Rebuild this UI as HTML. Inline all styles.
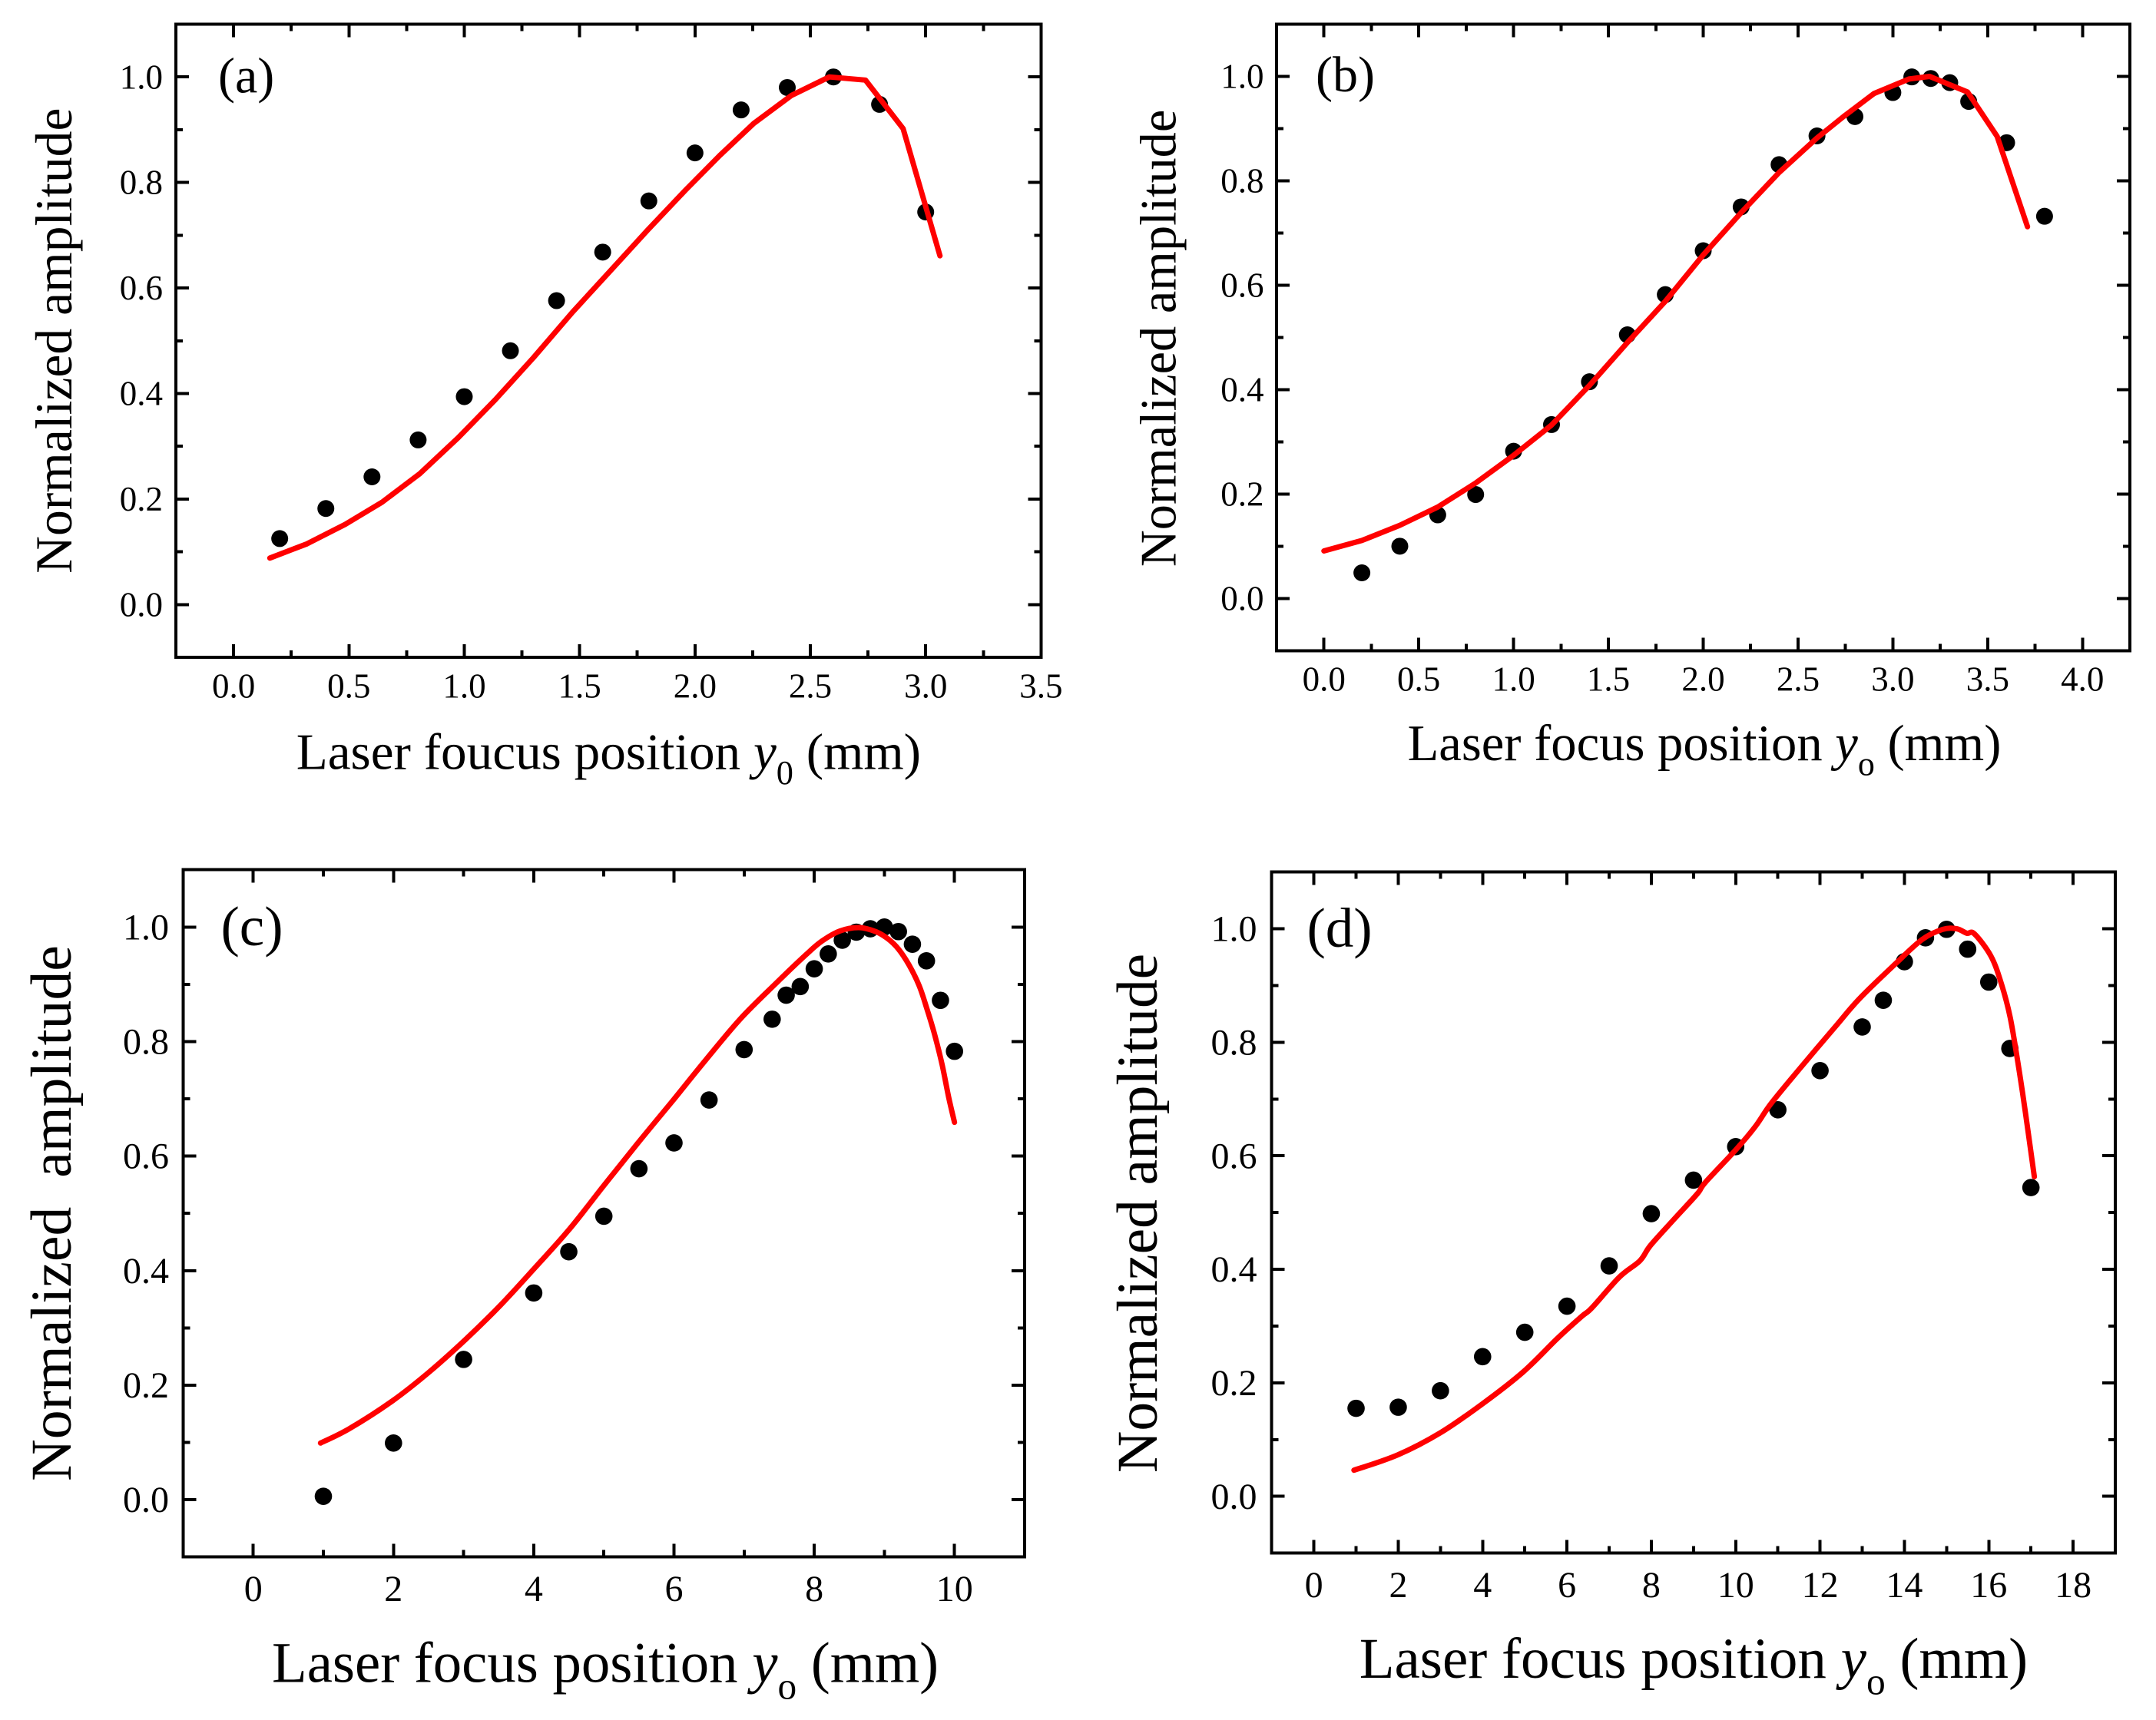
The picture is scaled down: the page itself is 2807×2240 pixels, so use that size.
<!DOCTYPE html>
<html lang="en">
<head>
<meta charset="utf-8">
<title>Normalized amplitude vs laser focus position</title>
<style>
html,body{margin:0;padding:0;background:#fff;}
svg{display:block;}
text{font-family:"Liberation Serif","Times New Roman",serif;fill:#000;white-space:pre;}
</style>
</head>
<body>
<svg id="chart" xmlns="http://www.w3.org/2000/svg" width="2807" height="2240" viewBox="0 0 2807 2240"></svg>
<script>
// Shared y axis
const yMajorTicks = [0, 0.2, 0.4, 0.6, 0.8, 1.0];
const yMinorTicks = [0.1, 0.3, 0.5, 0.7, 0.9];
const yTickLabels = ['0.0', '0.2', '0.4', '0.6', '0.8', '1.0'];

// Panel (a)
const aXMajorTicks = [0, 0.5, 1, 1.5, 2, 2.5, 3, 3.5];
const aXMinorTicks = [0.25, 0.75, 1.25, 1.75, 2.25, 2.75, 3.25];
const aXTickLabels = ['0.0', '0.5', '1.0', '1.5', '2.0', '2.5', '3.0', '3.5'];
const aDotX = [0.2, 0.4, 0.6, 0.8, 1.0, 1.2, 1.4, 1.6, 1.8, 2.0, 2.2, 2.4, 2.6, 2.8, 3.0];
const aDotY = [0.125, 0.182, 0.242, 0.312, 0.394, 0.481, 0.576, 0.668, 0.765, 0.856, 0.9375, 0.98, 1.0, 0.948, 0.744];
const aCurveX = [0.157, 0.318, 0.484, 0.644, 0.807, 0.973, 1.134, 1.30, 1.469, 1.632, 1.795, 1.958, 2.107, 2.255, 2.418, 2.582, 2.739, 2.902, 3.062];
const aCurveY = [0.088, 0.115, 0.152, 0.194, 0.248, 0.316, 0.388, 0.468, 0.554, 0.632, 0.71, 0.785, 0.851, 0.912, 0.965, 1.0, 0.994, 0.902, 0.661];

// Panel (b)
const bXMajorTicks = [0, 0.5, 1, 1.5, 2, 2.5, 3, 3.5, 4];
const bXMinorTicks = [0.25, 0.75, 1.25, 1.75, 2.25, 2.75, 3.25, 3.75];
const bXTickLabels = ['0.0', '0.5', '1.0', '1.5', '2.0', '2.5', '3.0', '3.5', '4.0'];
const bDotX = [0.2, 0.4, 0.6, 0.8, 1.0, 1.2, 1.4, 1.6, 1.8, 2.0, 2.2, 2.4, 2.6, 2.8, 3.0, 3.1, 3.2, 3.3, 3.4, 3.6, 3.8];
const bDotY = [0.049, 0.10, 0.16, 0.199, 0.282, 0.333, 0.415, 0.505, 0.582, 0.666, 0.75, 0.831, 0.886, 0.923, 0.969, 0.999, 0.996, 0.988, 0.952, 0.873, 0.732];
const bCurveX = [0, 0.2, 0.4, 0.6, 0.8, 1.0, 1.2, 1.4, 1.6, 1.8, 2.0, 2.2, 2.4, 2.6, 2.74, 2.9, 3.085, 3.194, 3.394, 3.55, 3.71];
const bCurveY = [0.091, 0.111, 0.14, 0.175, 0.221, 0.274, 0.332, 0.408, 0.49, 0.569, 0.658, 0.739, 0.816, 0.882, 0.923, 0.967, 0.995, 1.0, 0.97, 0.885, 0.712];

// Panel (c)
const cXMajorTicks = [0, 2, 4, 6, 8, 10];
const cXMinorTicks = [1, 3, 5, 7, 9];
const cXTickLabels = ['0', '2', '4', '6', '8', '10'];
const cDotX = [1, 2, 3, 4, 4.5, 5, 5.5, 6, 6.5, 7, 7.4, 7.6, 7.8, 8, 8.2, 8.4, 8.6, 8.8, 9, 9.2, 9.4, 9.6, 9.8, 10];
const cDotY = [0.006, 0.099, 0.245, 0.361, 0.433, 0.495, 0.578, 0.623, 0.698, 0.786, 0.839, 0.881, 0.896, 0.927, 0.953, 0.977, 0.991, 0.997, 1.0, 0.992, 0.97, 0.941, 0.872, 0.783];
const cCurveX = [0.96, 1.37, 1.99, 2.5, 3.03, 3.52, 4.01, 4.5, 4.99, 5.48, 5.97, 6.46, 6.95, 7.44, 7.885, 8.105, 8.365, 8.639, 8.877, 9.055, 9.205, 9.35, 9.495, 9.605, 9.715, 9.825, 9.92, 10.0];
const cCurveY = [0.099, 0.124, 0.173, 0.222, 0.28, 0.339, 0.404, 0.471, 0.547, 0.622, 0.695, 0.769, 0.84, 0.90, 0.952, 0.975, 0.993, 0.999, 0.992, 0.979, 0.961, 0.934, 0.898, 0.858, 0.813, 0.759, 0.701, 0.659];

// Panel (d)
const dXMajorTicks = [0, 2, 4, 6, 8, 10, 12, 14, 16, 18];
const dXMinorTicks = [1, 3, 5, 7, 9, 11, 13, 15, 17];
const dXTickLabels = ['0', '2', '4', '6', '8', '10', '12', '14', '16', '18'];
const dDotX = [1, 2, 3, 4, 5, 6, 7, 8, 9, 10, 11, 12, 13, 13.5, 14, 14.5, 15, 15.5, 16, 16.5, 17];
const dDotY = [0.155, 0.157, 0.186, 0.246, 0.289, 0.335, 0.406, 0.498, 0.557, 0.616, 0.681, 0.75, 0.827, 0.874, 0.942, 0.984, 0.999, 0.964, 0.906, 0.789, 0.544];
const dCurveX = [0.95, 1.99, 3, 3.98, 4.96, 5.77, 6.35, 6.59, 7.24, 7.73, 7.98, 8.55, 9.09, 9.28, 10.02, 10.47, 10.83, 11.48, 12.38, 12.95, 13.77, 14.42, 14.91, 15.24, 15.48, 15.66, 16.05, 16.3, 16.51, 16.7, 16.87, 17.08];
const dCurveY = [0.046, 0.073, 0.112, 0.162, 0.219, 0.278, 0.317, 0.332, 0.386, 0.415, 0.442, 0.489, 0.533, 0.553, 0.612, 0.652, 0.691, 0.75, 0.829, 0.878, 0.937, 0.981, 0.999, 1.0, 0.992, 0.991, 0.952, 0.903, 0.843, 0.76, 0.676, 0.563];

const SVG_NS = 'http://www.w3.org/2000/svg';
const root = document.getElementById('chart');

function make(parent, tag, attrs) {
  const el = document.createElementNS(SVG_NS, tag);
  for (const k in attrs) el.setAttribute(k, attrs[k]);
  parent.appendChild(el);
  return el;
}

function polyPath(pts) {
  return pts.map((q, i) => (i ? 'L' : 'M') + q[0].toFixed(1) + ' ' + q[1].toFixed(1)).join(' ');
}

function splinePath(pts) {
  let d = 'M' + pts[0][0].toFixed(1) + ' ' + pts[0][1].toFixed(1);
  for (let i = 0; i < pts.length - 1; i++) {
    const a = pts[Math.max(i - 1, 0)], b = pts[i], c = pts[i + 1], e = pts[Math.min(i + 2, pts.length - 1)];
    const c1x = b[0] + (c[0] - a[0]) / 6, c1y = b[1] + (c[1] - a[1]) / 6;
    const c2x = c[0] - (e[0] - b[0]) / 6, c2y = c[1] - (e[1] - b[1]) / 6;
    d += ' C' + c1x.toFixed(1) + ' ' + c1y.toFixed(1) + ' ' + c2x.toFixed(1) + ' ' + c2y.toFixed(1) + ' ' + c[0].toFixed(1) + ' ' + c[1].toFixed(1);
  }
  return d;
}

function drawPanel(p) {
  const g = make(root, 'g', {});
  
  

  const xScale = v => p.left + (v - p.xMin) / (p.xMax - p.xMin) * (p.right - p.left);
  const yScale = v => p.bottom - (v - (-0.1)) / 1.2 * (p.bottom - p.top);

  const MAJOR = 17, MINOR = 9;

  function tick(x1, y1, x2, y2, name) {
    const t = make(g, 'line', {x1: x1, y1: y1, x2: x2, y2: y2, stroke: '#000', 'stroke-width': 4, 'shape-rendering': 'crispEdges'});
    
    
  }

  function xTicks(values, len, kind) {
    values.forEach(v => {
      const x = xScale(v);
      if (x >= p.right - 1) return;
      tick(x, p.bottom, x, p.bottom - len, 'x-' + kind + '-tick-bottom');
      tick(x, p.top, x, p.top + len, 'x-' + kind + '-tick-top');
    });
  }

  function yTicks(values, len, kind) {
    values.forEach(v => {
      const y = yScale(v);
      tick(p.left, y, p.left + len, y, 'y-' + kind + '-tick-left');
      tick(p.right, y, p.right - len, y, 'y-' + kind + '-tick-right');
    });
  }

  xTicks(p.xMajor, MAJOR, 'major');
  xTicks(p.xMinor, MINOR, 'minor');
  yTicks(yMajorTicks, MAJOR, 'major');
  yTicks(yMinorTicks, MINOR, 'minor');

  const frame = make(g, 'rect', {x: p.left, y: p.top, width: p.right - p.left, height: p.bottom - p.top, fill: 'none', stroke: '#000', 'stroke-width': 4, 'shape-rendering': 'crispEdges'});
  
  

  p.xLabels.forEach((label, i) => {
    const t = make(g, 'text', {x: xScale(p.xMajor[i]), y: p.xTickBase, 'text-anchor': 'middle', 'font-size': p.tickFont});
    
    
    t.textContent = label;
  });

  yTickLabels.forEach((label, i) => {
    const t = make(g, 'text', {x: p.yTickRight, y: yScale(yMajorTicks[i]) + p.tickFont * 0.335, 'text-anchor': 'end', 'font-size': p.tickFont});
    
    
    t.textContent = label;
  });

  p.dotX.forEach((v, i) => {
    const c = make(g, 'circle', {cx: xScale(v), cy: yScale(p.dotY[i]), r: p.dotR, fill: '#000'});
    
    
  });

  const pts = p.curveX.map((v, i) => [xScale(v), yScale(p.curveY[i])]);
  const d = p.smooth ? splinePath(pts) : polyPath(pts);
  const curve = make(g, 'path', {d: d, fill: 'none', stroke: '#ff0000', 'stroke-width': 7, 'stroke-linejoin': 'round', 'stroke-linecap': 'round'});
  
  

  const panelLabel = make(g, 'text', {x: p.tagX, y: p.tagY, 'font-size': p.tagFont});
  
  
  panelLabel.textContent = '(' + p.id + ')';

  const yTitle = make(g, 'text', {transform: 'translate(' + p.yTitleX + ' ' + p.yTitleY + ') rotate(-90)', 'text-anchor': 'middle', 'font-size': p.yTitleFont});
  
  
  yTitle.textContent = p.yTitle;

  const xTitle = make(g, 'text', {x: p.xTitleX, y: p.xTitleY, 'font-size': p.xTitleFont});
  
  
  const t1 = make(xTitle, 'tspan', {});
  t1.textContent = p.xTitle + ' ';
  const t2 = make(xTitle, 'tspan', {'font-style': 'italic'});
  t2.textContent = 'y';
  const t3 = make(xTitle, 'tspan', {dy: p.xTitleFont * 0.29, 'font-size': p.xTitleFont * 0.66});
  t3.textContent = p.sub;
  const t4 = make(xTitle, 'tspan', {dy: -p.xTitleFont * 0.29});
  t4.textContent = ' (mm)';
}

drawPanel({
  id: 'a', left: 229, right: 1355.4, top: 31.5, bottom: 856, xMin: -0.25, xMax: 3.5,
  xMajor: aXMajorTicks, xMinor: aXMinorTicks, xLabels: aXTickLabels,
  dotX: aDotX, dotY: aDotY, curveX: aCurveX, curveY: aCurveY, dotR: 11, smooth: false,
  tickFont: 45, xTickBase: 908.5, yTickRight: 212,
  tagX: 284, tagY: 120.6, tagFont: 66,
  yTitle: 'Normalized amplitude', yTitleX: 93, yTitleY: 443.7, yTitleFont: 67.6,
  xTitle: 'Laser foucus position', sub: '0', xTitleX: 385.7, xTitleY: 1001.7, xTitleFont: 67.2
});

drawPanel({
  id: 'b', left: 1662, right: 2773, top: 31.5, bottom: 847.3, xMin: -0.25, xMax: 4.25,
  xMajor: bXMajorTicks, xMinor: bXMinorTicks, xLabels: bXTickLabels,
  dotX: bDotX, dotY: bDotY, curveX: bCurveX, curveY: bCurveY, dotR: 11, smooth: false,
  tickFont: 45, xTickBase: 899.5, yTickRight: 1645.5,
  tagX: 1713, tagY: 119, tagFont: 66,
  yTitle: 'Normalized amplitude', yTitleX: 1530.5, yTitleY: 440.4, yTitleFont: 66.4,
  xTitle: 'Laser focus position', sub: 'o', xTitleX: 1832.6, xTitleY: 990, xTitleFont: 66.6
});

drawPanel({
  id: 'c', left: 238.4, right: 1334, top: 1132.7, bottom: 2027.7, xMin: -1, xMax: 11,
  xMajor: cXMajorTicks, xMinor: cXMinorTicks, xLabels: cXTickLabels,
  dotX: cDotX, dotY: cDotY, curveX: cCurveX, curveY: cCurveY, dotR: 11.3, smooth: true,
  tickFont: 48, xTickBase: 2085, yTickRight: 220,
  tagX: 287.5, tagY: 1231, tagFont: 73,
  yTitle: 'Normalized  amplitude', yTitleX: 92, yTitleY: 1580, yTitleFont: 75.7,
  xTitle: 'Laser focus position', sub: 'o', xTitleX: 354, xTitleY: 2190.6, xTitleFont: 74.8
});

drawPanel({
  id: 'd', left: 1655.7, right: 2754, top: 1135.6, bottom: 2022.6, xMin: -1, xMax: 19,
  xMajor: dXMajorTicks, xMinor: dXMinorTicks, xLabels: dXTickLabels,
  dotX: dDotX, dotY: dDotY, curveX: dCurveX, curveY: dCurveY, dotR: 11.3, smooth: true,
  tickFont: 48, xTickBase: 2080, yTickRight: 1636.5,
  tagX: 1701.5, tagY: 1233, tagFont: 73,
  yTitle: 'Normalized amplitude', yTitleX: 1506, yTitleY: 1580, yTitleFont: 75.4,
  xTitle: 'Laser focus position', sub: 'o', xTitleX: 1769.7, xTitleY: 2184.8, xTitleFont: 75
});
</script>
</body>
</html>
